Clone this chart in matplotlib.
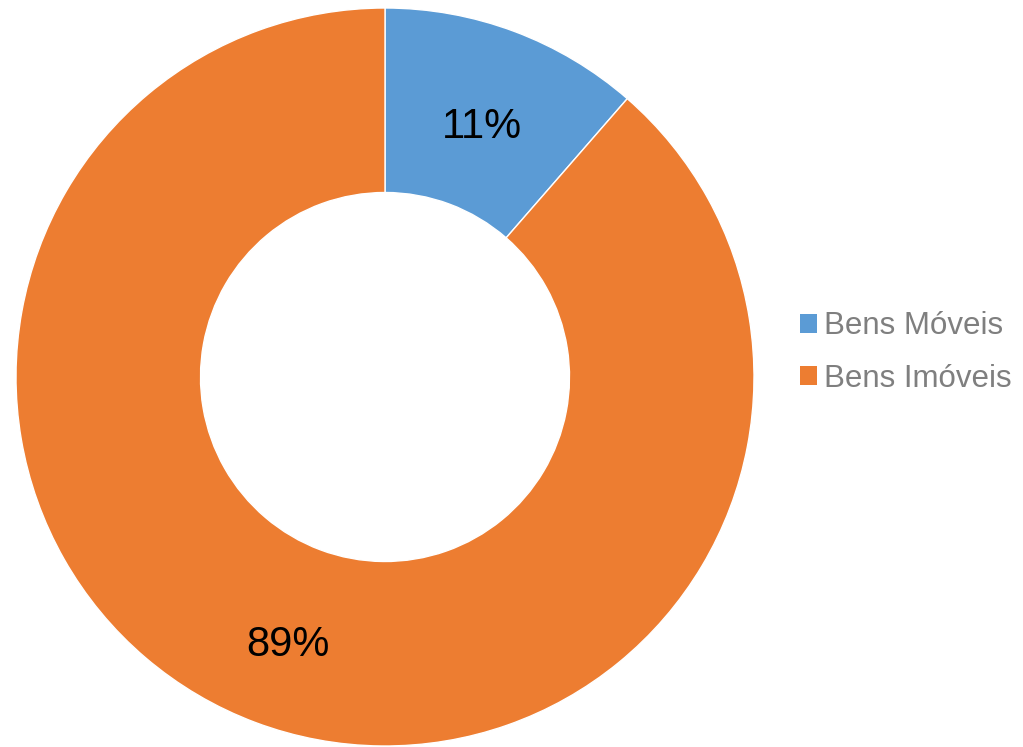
import matplotlib.pyplot as plt
from matplotlib.patches import Patch

plt.rcParams['font.family'] = ['Liberation Sans', 'DejaVu Sans']

# dados
categorias = ['Bens Móveis', 'Bens Imóveis']
valores = [11.4, 88.6]
cores = ['#5B9BD5', '#ED7D31']

fig = plt.figure(figsize=(10.23, 7.47), dpi=100)
ax = fig.add_axes([16 / 1023, 1 / 747, 738 / 1023, 738 / 747])

wedges, texts, autotexts = ax.pie(
    valores, colors=cores, startangle=90, counterclock=False,
    radius=1.0, autopct='%.0f%%', pctdistance=0.75,
    wedgeprops=dict(width=0.5, edgecolor='white', linewidth=1),
    textprops=dict(fontsize=30, color='black'))

# rótulos um pouco mais baixos
for t in autotexts:
    x, y = t.get_position()
    t.set_position((x, y - 0.025))

ax.set_xlim(-1, 1)
ax.set_ylim(-1, 1)
ax.set_aspect('equal')
ax.axis('off')

# legenda à direita
handles = [Patch(facecolor=c, edgecolor='none') for c in cores]
fig.legend(handles, categorias, loc='center left',
           bbox_to_anchor=(0.782, 0.528), frameon=False,
           fontsize=22.5, labelcolor='#7F7F7F',
           handlelength=0.54, handleheight=0.54, handletextpad=0.22,
           labelspacing=0.72, borderpad=0, borderaxespad=0)

fig.savefig('out.png', dpi=100, facecolor='white')
